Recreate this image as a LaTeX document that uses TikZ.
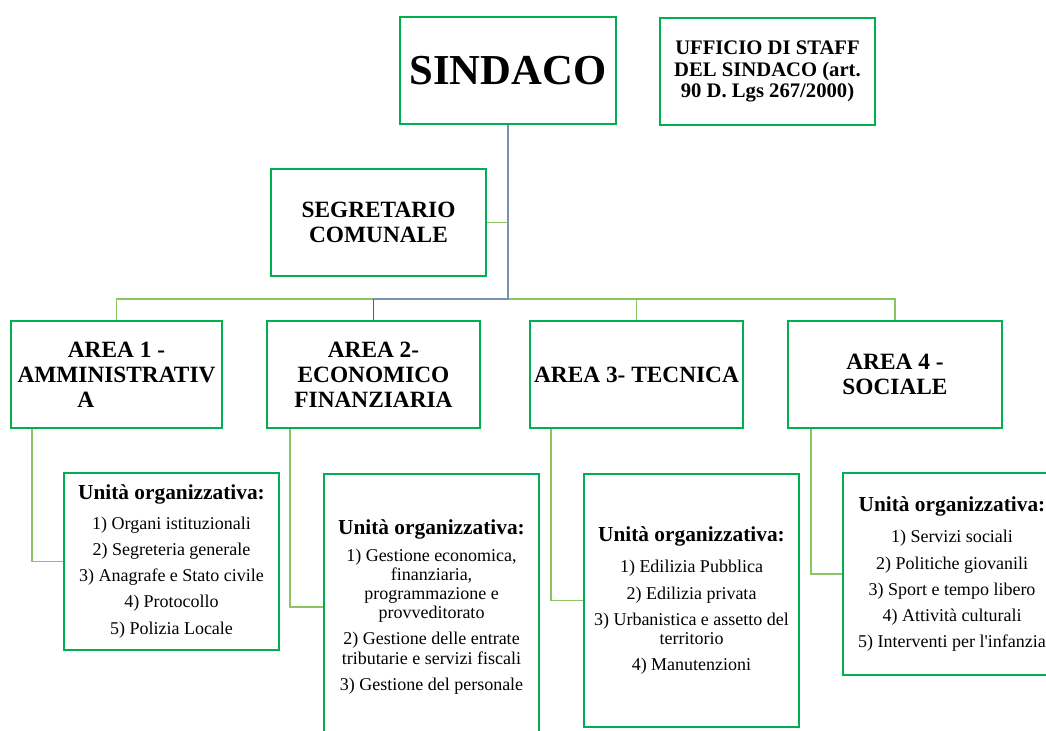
\documentclass[tikz,border=0pt]{standalone}
\usepackage{fontspec}
\setmainfont{Liberation Serif}
\definecolor{boxgreen}{HTML}{00B050}
\definecolor{linegreen}{HTML}{8CC363}
\definecolor{lineblue}{HTML}{7890B8}
\definecolor{stubblue}{HTML}{3E5FA6}
\newcommand{\utitle}{{\fontsize{16}{18}\selectfont\bfseries Unità organizzativa:}}
\begin{document}
\begin{tikzpicture}[x=0.75pt,y=-0.75pt,
  box/.style={draw=boxgreen, line width=1.6pt, fill=white, inner sep=0pt, align=center, text=black},
  conn/.style={draw=linegreen, line width=0.9pt},
  mainline/.style={draw=lineblue, line width=1.4pt},
  stubline/.style={draw=stubblue, line width=1.4pt},
  areafont/.style={font=\fontsize{17.5}{18.75}\selectfont\bfseries},
  unitfont/.style={font=\fontsize{13.5}{14.4}\selectfont}]
\useasboundingbox (0,0) rectangle (1046,731);
\clip (0,0) rectangle (1046,731);
\fill[white] (0,0) rectangle (1046,731);

\node[box, minimum width=162pt, minimum height=80.25pt, font=\fontsize{32}{36}\selectfont\bfseries] (sindaco) at (508,70.5) {SINDACO};
\node[box, minimum width=161.25pt, minimum height=80.25pt, font=\fontsize{15.5}{16.3}\selectfont\bfseries] (staff) at (767.5,71.5) {UFFICIO DI STAFF\\DEL SINDACO (art.\\90 D. Lgs 267/2000)};
\node[box, minimum width=161.25pt, minimum height=80.25pt, font=\fontsize{17.5}{18.3}\selectfont\bfseries] (segr) at (378.5,222.5) {SEGRETARIO\\COMUNALE};

\node[box, areafont, minimum width=158.25pt, minimum height=80.25pt] (area1) at (116.5,374.5) {AREA 1 -\\AMMINISTRATIV\\A\rule{46pt}{0pt}};
\node[box, areafont, minimum width=159.75pt, minimum height=80.25pt] (area2) at (373.5,374.5) {AREA 2-\\ECONOMICO\\FINANZIARIA};
\node[box, areafont, minimum width=159.75pt, minimum height=80.25pt] (area3) at (636.5,374.5) {AREA 3- TECNICA};
\node[box, areafont, minimum width=160.5pt, minimum height=80.25pt] (area4) at (895,374.5) {AREA 4 -\\SOCIALE};

\node[box, unitfont, minimum width=161.25pt, minimum height=132.75pt] (unit1) at (171.5,561.5) {\utitle\\[7.5pt]
1) Organi istituzionali\\[5.3pt]
2) Segreteria generale\\[5.3pt]
3) Anagrafe e Stato civile\\[5.3pt]
4) Protocollo\\[5.3pt]
5) Polizia Locale};
\node[box, unitfont, minimum width=161.25pt, minimum height=199.5pt] (unit2) at (431.5,607) {\utitle\\[5.5pt]
1) Gestione economica,\\finanziaria,\\programmazione e\\provveditorato\\[5.3pt]
2) Gestione delle entrate\\tributarie e servizi fiscali\\[5.3pt]
3) Gestione del personale};
\node[box, unitfont, minimum width=161.25pt, minimum height=189.75pt] (unit3) at (691.5,600.5) {\utitle\\[9.5pt]
1) Edilizia Pubblica\\[5.3pt]
2) Edilizia privata\\[5.3pt]
3) Urbanistica e assetto del\\territorio\\[5.3pt]
4) Manutenzioni};
\node[box, unitfont, minimum width=163.5pt, minimum height=151.5pt] (unit4) at (952,574) {\utitle\\[9.5pt]
1) Servizi sociali\\[5.3pt]
2) Politiche giovanili\\[5.3pt]
3) Sport e tempo libero\\[5.3pt]
4) Attività culturali\\[5.3pt]
5) Interventi per l\textquotesingle infanzia};

\coordinate (bus) at (0,299);
\draw[conn] (area1.north) -- (area1.north |- bus) -- (area4.north |- bus) -- (area4.north);
\draw[conn] (area3.north) -- (area3.north |- bus);
\draw[conn] (segr.east) -- (segr.east -| sindaco.south);
\draw[mainline] (sindaco.south) -- (sindaco.south |- bus) -- (area2.north |- bus);
\draw[stubline] (area2.north |- bus) -- (area2.north);

\draw[conn] ([xshift=16.5pt]area1.south west) |- (unit1.west);
\draw[conn] ([xshift=18pt]area2.south west) |- (unit2.west);
\draw[conn] ([xshift=16.5pt]area3.south west) |- (unit3.west);
\draw[conn] ([xshift=18pt]area4.south west) |- (unit4.west);
\end{tikzpicture}
\end{document}
